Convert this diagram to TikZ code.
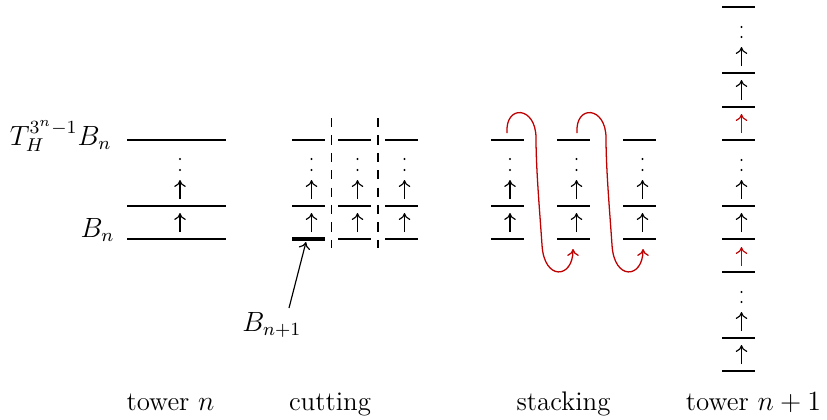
\documentclass[tikz,border=0pt]{standalone}
\usetikzlibrary{arrows.meta}
\begin{document}
\begin{tikzpicture}[x=0.0151515cm, y=-0.0151515cm,
  font=\fontsize{11.6}{14}\selectfont,
  >={To[length=3pt,width=5pt]},
  lvl/.style={line width=0.5pt},
  boldlvl/.style={line width=1.4pt},
  up/.style={->, line width=0.5pt},
  redup/.style={->, line width=0.5pt, draw=myred},
  redcurve/.style={->, line width=0.55pt, draw=myred},
  cutline/.style={dash pattern=on 4pt off 3.5pt, line width=0.5pt},
  lbl/.style={inner sep=0pt, anchor=base}]
\definecolor{myred}{RGB}{190,0,0}
\useasboundingbox (0,0) rectangle (827,419);

% ---------------- tower n
\foreach \y in {140,206,239} \draw[lvl] (127,\y) -- (226,\y);
\draw[up] (180,232) -- (180,213);
\draw[up] (180,199) -- (180,180);
\fill (180,159) circle (1.1);
\fill (180,170) circle (1.1);
\node[lbl, anchor=base east] (ttop) at (112,145) {$T_H^{3^n-1}B_n$};
\node[lbl, anchor=base east] (tbot) at (115,237) {$B_n$};

% ---------------- cutting
\foreach \a/\c in {292/311.5, 338/357.5, 385/404.5} {
  \draw[lvl] (\a,140) -- ++(33,0);
  \draw[lvl] (\a,206) -- ++(33,0);
  \draw[up] (\c,232) -- (\c,213);
  \draw[up] (\c,199) -- (\c,180);
  \fill (\c,159) circle (1.1);
  \fill (\c,170) circle (1.1);
}
\draw[boldlvl] (292,239) -- ++(33,0);
\draw[lvl] (338,239) -- ++(33,0);
\draw[lvl] (385,239) -- ++(33,0);
\draw[cutline] (331.5,118) -- (331.5,248);
\draw[cutline] (378,118) -- (378,248);
\node[lbl] (bn1) at (272,331) {$B_{n+1}$};
\coordinate (bs) at (289,308);
\coordinate (bt) at (306,242);
\draw[->, line width=0.5pt] (bs) -- (bt);

% ---------------- stacking
\foreach \a/\c in {491/510, 557/576.5, 623/642.5} {
  \foreach \y in {140,206,239} \draw[lvl] (\a,\y) -- ++(33,0);
  \draw[up] (\c,232) -- (\c,213);
  \draw[up] (\c,199) -- (\c,180);
  \fill (\c,159) circle (1.1);
  \fill (\c,170) circle (1.1);
}
\foreach \s in {0,70} {
  \begin{scope}[xshift=\s*0.0151515cm]
  \coordinate (cs) at (507,133);
  \coordinate (ce) at (573,249);
  \draw[redcurve] (cs) .. controls (505,104) and (536,106) .. (536,138)
     .. controls (536,170) and (540,215) .. (542,245)
     .. controls (544,281) and (573,279) .. (ce);
  \end{scope}
}

% ---------------- tower n+1
\foreach \y in {7,73,107,140,206,239,272,338,371} \draw[lvl] (722,\y) -- ++(33,0);
\def\ax{741.5}
\draw[up] (\ax,66) -- (\ax,47);
\fill (\ax,27) circle (1.1);
\fill (\ax,37) circle (1.1);
\draw[up] (\ax,100) -- (\ax,80);
\draw[redup] (\ax,133) -- (\ax,114);
\draw[up] (\ax,199) -- (\ax,180);
\fill (\ax,160) circle (1.1);
\fill (\ax,170) circle (1.1);
\draw[up] (\ax,232) -- (\ax,213);
\draw[redup] (\ax,266) -- (\ax,247);
\draw[up] (\ax,331) -- (\ax,312);
\fill (\ax,292) circle (1.1);
\fill (\ax,302) circle (1.1);
\draw[up] (\ax,364) -- (\ax,345);

% ---------------- captions
\node[lbl] (c1) at (170.5,410) {tower $n$};
\node[lbl] (c2) at (330,410) {cutting};
\node[lbl] (c3) at (563.5,410) {stacking};
\node[lbl] (c4) at (753.5,410) {tower $n+1$};
\end{tikzpicture}
\end{document}
